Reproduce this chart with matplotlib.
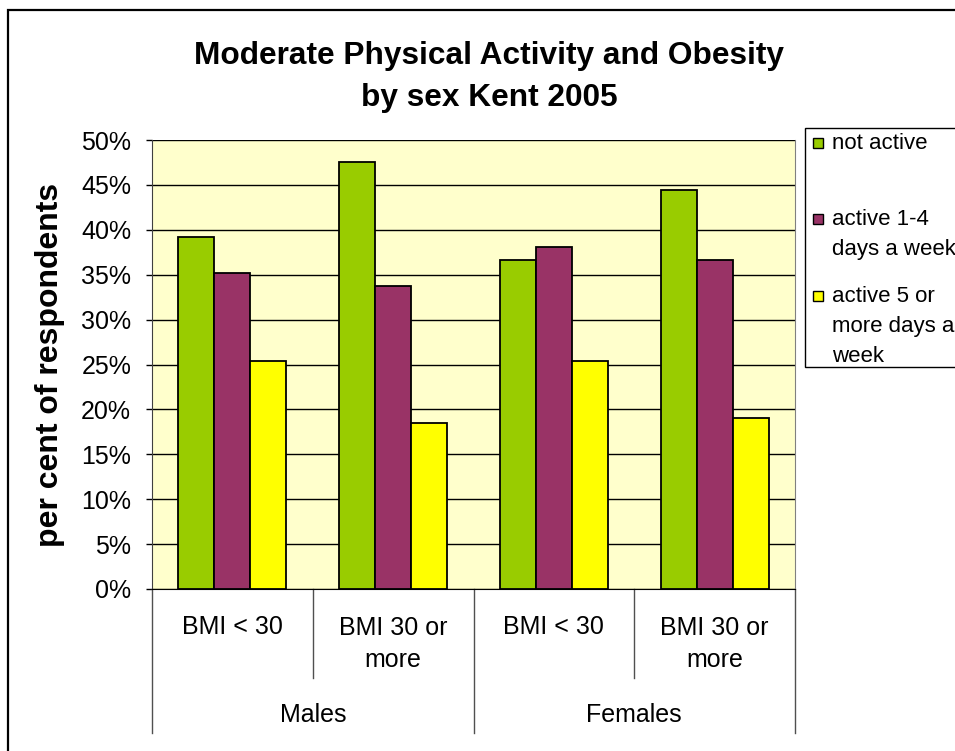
import matplotlib
matplotlib.use("Agg")
import matplotlib.pyplot as plt
from matplotlib.patches import Rectangle
import numpy as np

plt.rcParams['font.family'] = ['Liberation Sans', 'DejaVu Sans']

# data (per cent of respondents)
subgroups = ["BMI < 30", "BMI 30 or\nmore", "BMI < 30", "BMI 30 or\nmore"]
sexes = ["Males", "Females"]
series_names = ["not active", "active 1-4\ndays a week", "active 5 or\nmore days a\nweek"]
not_active = [39.2, 47.5, 36.6, 44.4]
active_1_4 = [35.2, 33.7, 38.1, 36.6]
active_5_plus = [25.4, 18.5, 25.4, 19.0]
yticks = [0, 5, 10, 15, 20, 25, 30, 35, 40, 45, 50]

series = [not_active, active_1_4, active_5_plus]
colors = ["#99CC00", "#993366", "#FFFF00"]

W, H = 955, 751
fig = plt.figure(figsize=(W / 100, H / 100), dpi=100)

def fx(px):
    return px / W

def fy(py):
    return 1 - py / H

# outer chart border
fig.patches.append(Rectangle((fx(8), fy(800)), 1.2, fy(10) - fy(800), transform=fig.transFigure,
                             fill=False, edgecolor="black", linewidth=1.6))

ax = fig.add_axes([fx(152), fy(589), fx(795) - fx(152), fy(140) - fy(589)])
ax.set_facecolor("#FFFFCC")

x = np.arange(len(subgroups))
bw = 0.224
for i, (vals, c) in enumerate(zip(series, colors)):
    ax.bar(x + (i - 1) * bw, vals, width=bw, color=c, edgecolor="black", linewidth=1.3, zorder=3)

ax.set_xlim(-0.5, len(subgroups) - 0.5)
ax.set_ylim(0, 50)
ax.set_yticks(yticks)
ax.set_yticklabels([f"{v}%" for v in yticks], fontsize=18)
ax.yaxis.grid(True, color="black", linewidth=1.0, zorder=0)
ax.set_axisbelow(True)
ax.tick_params(axis="y", direction="out", length=4, width=1, pad=11, colors="black")
ax.set_xticks([])
ax.spines["top"].set_visible(False)
ax.spines["left"].set_color("#404040")
ax.spines["bottom"].set_color("black")
ax.spines["right"].set_color("#808080")

# two-level category axis
tr = ax.get_xaxis_transform()
sep_short = -0.198
sep_long = -0.321
for b in [-0.5, 0.5, 1.5, 2.5, 3.5]:
    outer = b in (-0.5, 1.5, 3.5)
    ax.plot([b, b], [0, sep_long if outer else sep_short], transform=tr, clip_on=False,
            color="#505050", linewidth=1.0)
for xi, lab in zip(x, subgroups):
    ax.text(xi, -0.122 if "\n" in lab else -0.085, lab, transform=tr, ha="center", va="center",
            fontsize=18, linespacing=1.45)
for k, s in enumerate(sexes):
    ax.text(2 * k + 0.5, -0.28, s, transform=tr, ha="center", va="center", fontsize=18)

# title and y label
fig.text(fx(489), fy(77), "Moderate Physical Activity and Obesity\nby sex Kent 2005",
         ha="center", va="center", fontsize=22.8, fontweight="bold", linespacing=1.5)
fig.text(fx(50), fy(365), "per cent of respondents", rotation=90, ha="center", va="center",
         fontsize=23, fontweight="bold")

# legend
fig.patches.append(Rectangle((fx(805), fy(367)), 0.5, fy(128) - fy(367), transform=fig.transFigure,
                             facecolor="white", edgecolor="black", linewidth=1.0))
entry_y = [143, 219, 296]
for name, c, yy in zip(series_names, colors, entry_y):
    fig.patches.append(Rectangle((fx(813), fy(yy + 5)), fx(10), fy(yy - 5) - fy(yy + 5),
                                 transform=fig.transFigure, facecolor=c, edgecolor="black",
                                 linewidth=1.0))
    fig.text(fx(832), fy(yy - 10), name, ha="left", va="top", fontsize=16, linespacing=1.55)

fig.savefig("out.png", dpi=100)
